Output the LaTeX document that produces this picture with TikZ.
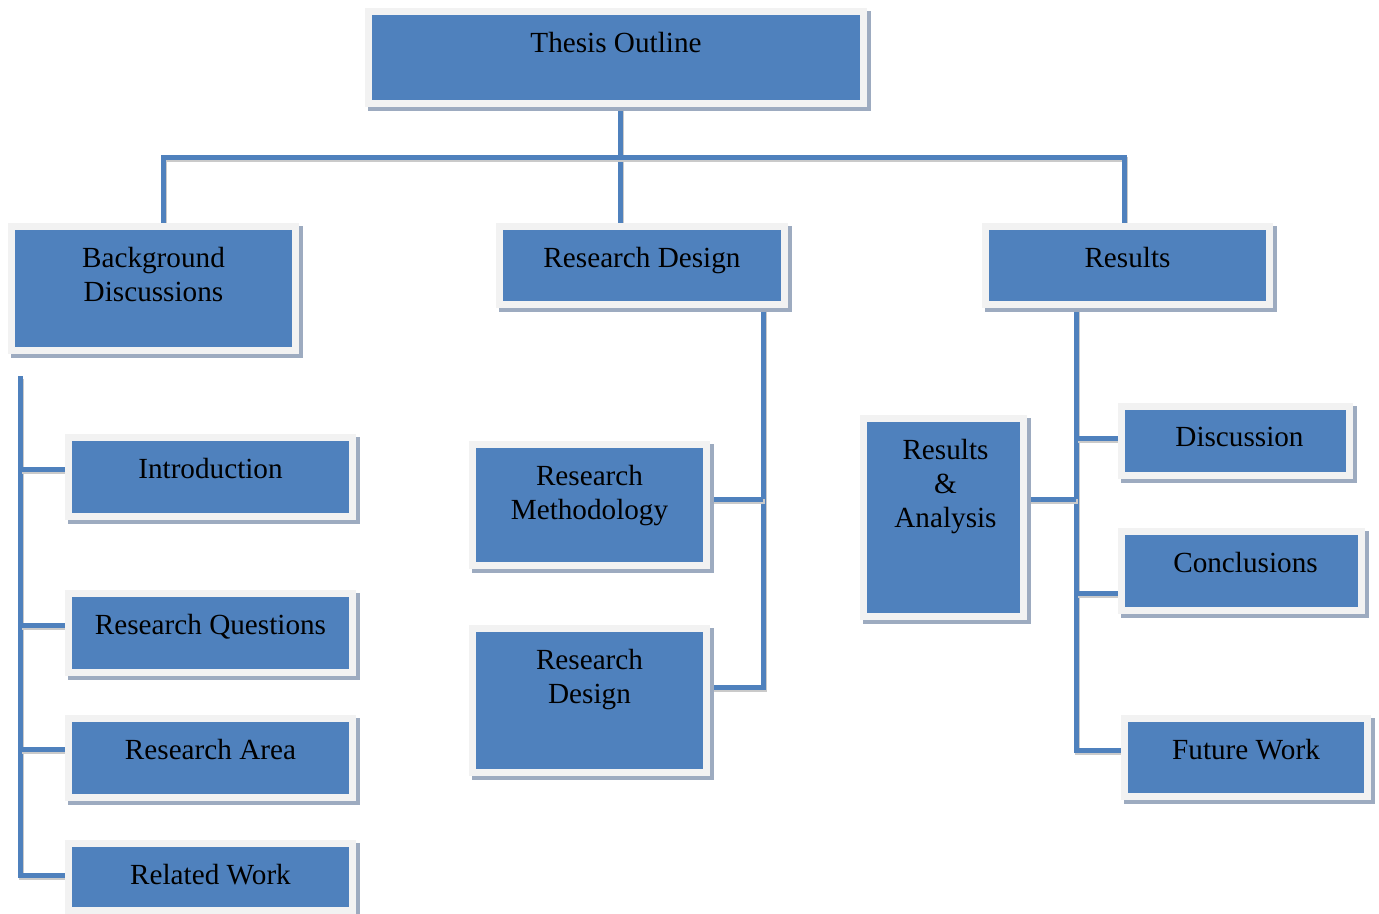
\documentclass[tikz,border=0pt]{standalone}
\usepackage{fontspec}
\setmainfont{Liberation Serif}
\usetikzlibrary{shadows,backgrounds}

\definecolor{boxblue}{HTML}{4F81BD}
\definecolor{framegray}{HTML}{F2F2F2}
\definecolor{boxshadow}{HTML}{9DABC0}
\definecolor{linkshadow}{HTML}{CACACA}

\tikzset{
  box/.style={rectangle, fill=boxblue, draw=framegray, line width=5.6pt,
    inner sep=0pt, outer sep=0pt,
    drop shadow={shadow xshift=2.4pt, shadow yshift=-2.8pt, fill=boxshadow,
      draw=boxshadow, line width=5.6pt, opacity=1}},
  boxtext/.style={font=\fontsize{21.9}{25.5}\selectfont, align=center,
    inner sep=0pt, text=black, anchor=north},
  link/.style={draw=boxblue, line width=3.75pt,
    preaction={draw=linkshadow, line width=3.75pt,
      transform canvas={shift={(1.2pt,-2.2pt)}}}},
}

% [#1] label shift in px, #2 name, #3..#6 corners of the blue area (x1,y1,x2,y2), #7 label
\newcommand\outlinebox[7][0]{%
  \node[box, minimum width={(#5-#3+7.5)*0.75pt},
        minimum height={(#6-#4+7.5)*0.75pt}]
       (#2) at ({(#3+#5)/2},{(#4+#6)/2}) {};
  \node[boxtext] (#2-text) at ([xshift={#1*0.75pt}, yshift=-15.6pt]#2.north) {#7};
}

\begin{document}
\begin{tikzpicture}[x=0.75pt, y=-0.75pt]
\useasboundingbox (0,0) rectangle (1379,914);

% top level
\outlinebox{thesis}{372}{15}{860}{100}{Thesis Outline}

% second level
\outlinebox{bg}{15}{230}{292}{347}{Background\\Discussions}
\outlinebox{rd}{503}{230}{781}{301}{Research Design}
\outlinebox{res}{989}{230}{1266}{301}{Results}

% background chapters
\outlinebox{intro}{72}{441}{349}{513}{Introduction}
\outlinebox{rq}{72}{597}{349}{669}{Research Questions}
\outlinebox{ra}{72}{722}{349}{794}{Research Area}
\outlinebox{rw}{72}{847}{349}{907}{Related Work}

% research design chapters
\outlinebox{meth}{476}{448}{703}{562}{Research\\Methodology}
\outlinebox{des}{476}{632}{703}{769}{Research\\Design}

% results chapters
\outlinebox[2]{ana}{867}{422}{1020}{613}{Results\\\&\\Analysis}
\outlinebox[4]{disc}{1125}{410}{1346}{472}{Discussion}
\outlinebox[4]{concl}{1125}{535}{1358}{607}{Conclusions}
\outlinebox{fw}{1128}{722}{1364}{793}{Future Work}

% trunk and branch points
\coordinate (busmid) at (620,157);
\coordinate (busL) at (163,157);
\coordinate (busR) at (1124,157);
\coordinate (ltop) at (20,376);
\coordinate (l1) at (20,469);
\coordinate (l2) at (20,625);
\coordinate (l3) at (20,749);
\coordinate (l4) at (20,875);
\coordinate (m1) at (763,499);
\coordinate (m2) at (763,687);
\coordinate (r1) at (1076,438);
\coordinate (r2) at (1076,499);
\coordinate (r3) at (1076,593);
\coordinate (r4) at (1076,750);

\begin{pgfonlayer}{background}
  % top bus
  \draw[link] (thesis.south -| busmid) -- (rd.north -| busmid);
  \draw[link] (bg.north -| busL) -- (busL) -- (busR) -- (res.north -| busR);
  % left tree
  \draw[link] (ltop) -- (l4) -- (l4 -| rw.west);
  \draw[link] (l1) -- (l1 -| intro.west);
  \draw[link] (l2) -- (l2 -| rq.west);
  \draw[link] (l3) -- (l3 -| ra.west);
  % middle tree
  \draw[link] (rd.south -| m1) -- (m2) -- (m2 -| des.east);
  \draw[link] (m1) -- (m1 -| meth.east);
  % right tree
  \draw[link] (res.south -| r1) -- (r4) -- (r4 -| fw.west);
  \draw[link] (r1) -- (r1 -| disc.west);
  \draw[link] (r2) -- (r2 -| ana.east);
  \draw[link] (r3) -- (r3 -| concl.west);
\end{pgfonlayer}
\end{tikzpicture}
\end{document}
